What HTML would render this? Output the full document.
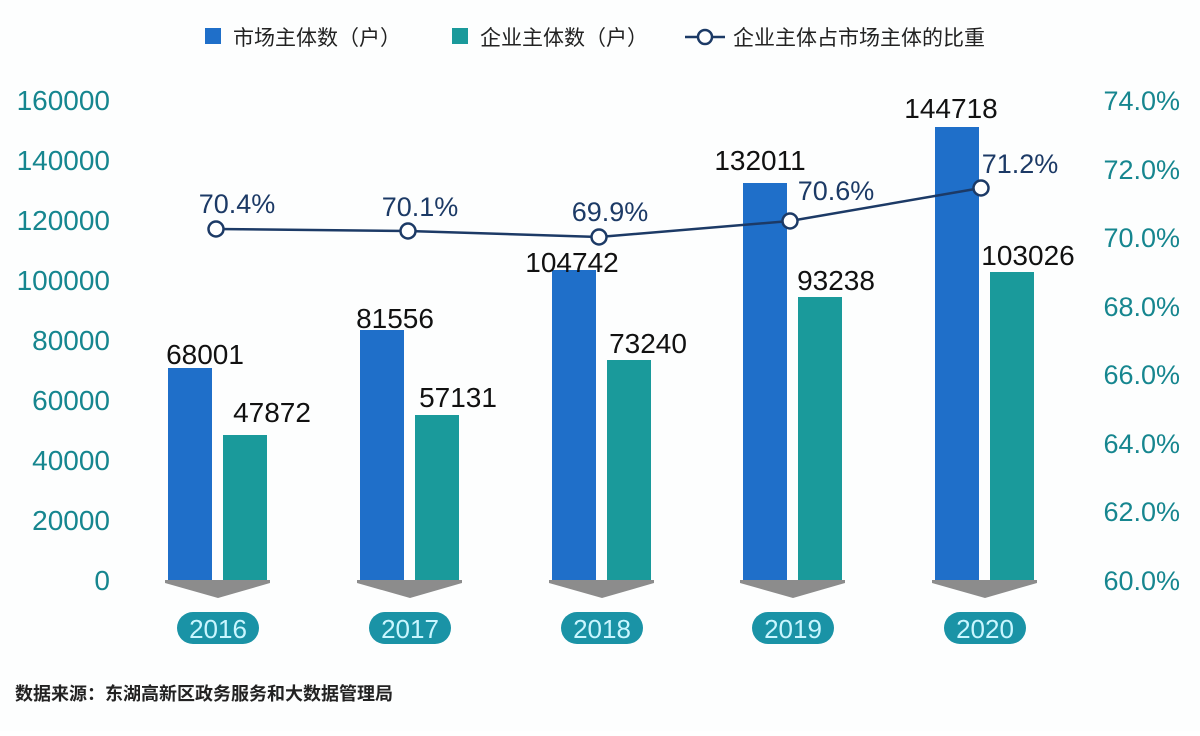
<!DOCTYPE html>
<html><head><meta charset="utf-8"><style>
body{margin:0;background:#fff;}
svg text{font-family:"Liberation Sans","Noto Sans CJK SC",sans-serif;}
</style></head><body>
<svg width="1200" height="731" viewBox="0 0 1200 731" xmlns="http://www.w3.org/2000/svg">
<rect width="1200" height="731" fill="#fdfefe"/>
<!-- legend -->
<rect x="205" y="28" width="16" height="16" fill="#1f6fc9"/>
<text x="233" y="45" font-size="21" fill="#222">市场主体数（户）</text>
<rect x="452" y="28" width="16" height="16" fill="#1a9a9b"/>
<text x="480" y="45" font-size="21" fill="#222">企业主体数（户）</text>
<line x1="685" y1="37" x2="725" y2="37" stroke="#1c3a66" stroke-width="2.5"/>
<circle cx="705" cy="37" r="7" fill="#fff" stroke="#1c3a66" stroke-width="2.5"/>
<text x="733" y="45" font-size="21" fill="#222">企业主体占市场主体的比重</text>
<!-- left axis -->
<g font-size="28" fill="#16868f" text-anchor="end">
<text x="110" y="110">160000</text><text x="110" y="170">140000</text><text x="110" y="230">120000</text>
<text x="110" y="290">100000</text><text x="110" y="350">80000</text><text x="110" y="410">60000</text>
<text x="110" y="470">40000</text><text x="110" y="530">20000</text><text x="110" y="590">0</text>
</g>
<g font-size="27" fill="#16868f" text-anchor="end">
<text x="1180" y="110">74.0%</text><text x="1180" y="179">72.0%</text><text x="1180" y="247">70.0%</text>
<text x="1180" y="316">68.0%</text><text x="1180" y="384">66.0%</text><text x="1180" y="453">64.0%</text>
<text x="1180" y="521">62.0%</text><text x="1180" y="590">60.0%</text>
</g>
<!-- bars -->
<g fill="#1f6fc9">
<rect x="168" y="368" width="44" height="212"/>
<rect x="360" y="330" width="44" height="250"/>
<rect x="552" y="270" width="44" height="310"/>
<rect x="743" y="183" width="44" height="397"/>
<rect x="935" y="127" width="44" height="453"/>
</g>
<g fill="#1a9a9b">
<rect x="223" y="435" width="44" height="145"/>
<rect x="415" y="415" width="44" height="165"/>
<rect x="607" y="360" width="44" height="220"/>
<rect x="798" y="297" width="44" height="283"/>
<rect x="990" y="272" width="44" height="308"/>
</g>
<!-- chevrons and pills -->
<g fill="#8c8c8c">
<polygon points="165,580 270,580 270,583 218,598 165,583"/>
<polygon points="357,580 462,580 462,583 410,598 357,583"/>
<polygon points="549,580 654,580 654,583 602,598 549,583"/>
<polygon points="740,580 845,580 845,583 793,598 740,583"/>
<polygon points="932,580 1037,580 1037,583 985,598 932,583"/>
</g>
<g fill="#1a93a6">
<rect x="177" y="612" width="82" height="32" rx="16"/>
<rect x="369" y="612" width="82" height="32" rx="16"/>
<rect x="561" y="612" width="82" height="32" rx="16"/>
<rect x="752" y="612" width="82" height="32" rx="16"/>
<rect x="944" y="612" width="82" height="32" rx="16"/>
</g>
<g font-size="26" fill="#c9f6ff" text-anchor="middle">
<text x="218" y="638">2016</text><text x="410" y="638">2017</text><text x="602" y="638">2018</text>
<text x="793" y="638">2019</text><text x="985" y="638">2020</text>
</g>
<!-- value labels -->
<g font-size="28" fill="#111" text-anchor="middle">
<text x="205" y="364">68001</text><text x="272" y="422">47872</text>
<text x="395" y="328">81556</text><text x="458" y="407">57131</text>
<text x="572" y="272">104742</text><text x="648" y="353">73240</text>
<text x="760" y="170">132011</text><text x="836" y="290">93238</text>
<text x="951" y="118">144718</text><text x="1028" y="265">103026</text>
</g>
<!-- line -->
<polyline points="216,229 408,231 599,237 790,221 981,188" fill="none" stroke="#1c3a66" stroke-width="2.5"/>
<g fill="#fff" stroke="#1c3a66" stroke-width="2.5">
<circle cx="216" cy="229" r="7.5"/><circle cx="408" cy="231" r="7.5"/><circle cx="599" cy="237" r="7.5"/>
<circle cx="790" cy="221" r="7.5"/><circle cx="981" cy="188" r="7.5"/>
</g>
<g font-size="27" fill="#1c3a66" text-anchor="middle">
<text x="237" y="213">70.4%</text><text x="420" y="216">70.1%</text><text x="610" y="221">69.9%</text>
<text x="836" y="200">70.6%</text><text x="1020" y="173">71.2%</text>
</g>
<text x="15" y="700" font-size="18" font-weight="bold" fill="#222">数据来源：东湖高新区政务服务和大数据管理局</text>
</svg>
</body></html>
